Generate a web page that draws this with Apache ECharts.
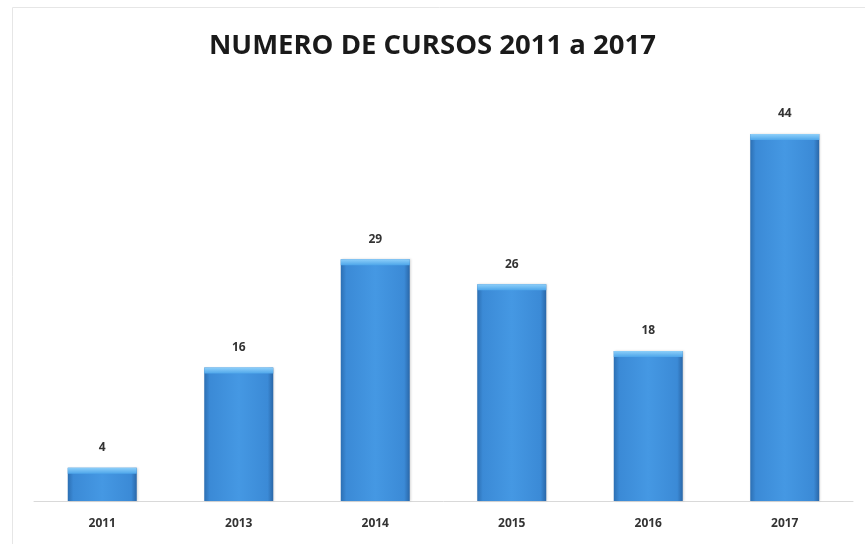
<!DOCTYPE html>
<html><head><meta charset="utf-8">
<script src="https://cdn.jsdelivr.net/npm/echarts@6/dist/echarts.min.js"></script>
<style>html,body{margin:0;padding:0;background:#fff}#c{width:865px;height:544px}</style>
</head><body><div id="c"></div>
<script>
const categories = ['2011','2013','2014','2015','2016','2017'];
const values = [4,16,29,26,18,44];
const titleText = 'NUMERO DE CURSOS 2011 a 2017';

const chart = echarts.init(document.getElementById('c'));
chart.setOption({
  animation:false,
  backgroundColor:'#fff',
  title:{text:titleText,left:'center',top:27,textStyle:{fontFamily:'Open Sans',fontWeight:'bold',fontSize:27.5,color:'#1a1a1a'}},
  graphic:[{type:'rect',shape:{x:12.5,y:7.5,width:870,height:560},style:{fill:'none',stroke:'#e6e6e6',lineWidth:1},silent:true}],
  grid:{left:34,right:12,top:84,bottom:43},
  xAxis:{type:'category',data:categories,axisLine:{lineStyle:{color:'#d9d9d9',width:1}},axisTick:{show:false},
    axisLabel:{fontFamily:'Open Sans',fontWeight:'bold',fontSize:12,color:'#333',margin:17}},
  yAxis:{type:'value',min:0,max:50,show:false,splitLine:{show:false}},
  series:[{type:'bar',data:values,barWidth:69,
    itemStyle:{
      color:new echarts.graphic.LinearGradient(0,0,1,0,[
        {offset:0,color:'#2c6fb3'},{offset:0.08,color:'#3b8ad6'},{offset:0.5,color:'#4598e3'},{offset:0.92,color:'#3b8ad6'},{offset:1,color:'#2a67a8'}]),
      shadowColor:'rgba(0,0,0,0.15)',shadowBlur:2,shadowOffsetX:1
    },
    label:{show:true,position:'top',distance:14,fontFamily:'Open Sans',fontWeight:'bold',fontSize:12,color:'#333'}
  },
  {type:'pictorialBar',data:values,symbol:'rect',symbolSize:[69,6],symbolPosition:'end',symbolOffset:[0,0],
    silent:true,z:5,barGap:'-100%',
    itemStyle:{color:new echarts.graphic.LinearGradient(0,0,0,1,[{offset:0,color:'#8fd0fa'},{offset:1,color:'#4ea6ea'}])},
    label:{show:false}
  }]
});
</script></body></html>
